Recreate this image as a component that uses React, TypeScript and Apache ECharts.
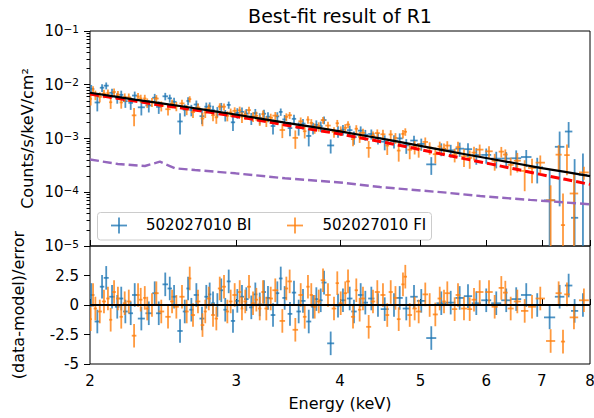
import React, { useEffect, useRef } from 'react';
import * as echarts from 'echarts';

// ---------- axis ticks ----------
const X_TICKS = [2, 3, 4, 5, 6, 7, 8];
const Y_MAJOR_TICKS = [1e-5, 1e-4, 1e-3, 1e-2, 1e-1];
const RESID_TICKS = [-5, -2.5, 0, 2.5];
const Y_MINOR_TICKS: number[] = [];
for (let d = -5; d < -1; d++) for (let k = 2; k <= 9; k++) Y_MINOR_TICKS.push(k * Math.pow(10, d));

// ---------- model curves (keV, counts/s/keV/cm^2) ----------
const MODEL_E = [2.0, 2.128, 2.265, 2.428, 2.602, 2.791, 2.994, 3.207, 3.434, 3.706, 4.0, 4.287, 4.595, 4.926, 5.28, 5.659, 6.066, 6.502, 6.969, 7.467, 8.0];
const MODEL_TOTAL = [7.1e-3, 6.13e-3, 5.3e-3, 4.55e-3, 3.9e-3, 3.3e-3, 2.8e-3, 2.35e-3, 1.97e-3, 1.64e-3, 1.36e-3, 1.125e-3, 9.3e-4, 7.59e-4, 6.2e-4, 5.1e-4, 4.2e-4, 3.46e-4, 2.85e-4, 2.39e-4, 2.0e-4];
const MODEL_SRC = [6.69e-3, 5.78e-3, 4.98e-3, 4.18e-3, 3.63e-3, 3.06e-3, 2.58e-3, 2.15e-3, 1.79e-3, 1.47e-3, 1.21e-3, 9.9e-4, 8.1e-4, 6.51e-4, 5.2e-4, 4.18e-4, 3.37e-4, 2.7e-4, 2.15e-4, 1.74e-4, 1.4e-4];
const BKG_E = [2.0, 2.161, 2.329, 2.428, 2.531, 2.675, 2.994, 3.434, 4.0, 4.47, 5.381, 5.9, 6.778, 8.0];
const BKG_V = [4.07e-4, 3.35e-4, 3.08e-4, 3.7e-4, 2.79e-4, 2.59e-4, 2.25e-4, 1.82e-4, 1.52e-4, 1.25e-4, 9.8e-5, 8.5e-5, 7.2e-5, 5.97e-5];

// ---------- BI data: bin energy (keV) and residual (data-model)/error ----------
const BI_ENERGY = [2.007, 2.041, 2.068, 2.092, 2.126, 2.157, 2.181, 2.206, 2.239, 2.264, 2.306, 2.354, 2.393, 2.42, 2.464, 2.495, 2.525, 2.567, 2.601, 2.625, 2.649, 2.686, 2.728, 2.761, 2.787, 2.813, 2.847, 2.878, 2.91, 2.938, 2.973, 3.009, 3.048, 3.085, 3.128, 3.163, 3.202, 3.24, 3.276, 3.322, 3.362, 3.394, 3.431, 3.482, 3.521, 3.567, 3.61, 3.668, 3.712, 3.746, 3.792, 3.827, 3.898, 3.978, 4.033, 4.109, 4.158, 4.236, 4.291, 4.363, 4.444, 4.528, 4.646, 4.72, 4.807, 4.911, 5.011, 5.152, 5.297, 5.437, 5.574, 5.704, 5.837, 6.0, 6.169, 6.342, 6.52, 6.704, 6.911, 7.153, 7.354, 7.54, 7.666, 7.845];
const BI_RESID = [0.85, -1.4, 1.55, 2.3, 0.7, -0.15, 0.55, -0.55, -0.7, 0.85, -1.15, -0.7, 1.0, -0.7, 1.75, 1.4, 0.7, -2.2, -0.55, 1.4, -0.4, 0.85, -1.15, 0.7, 0.9, 0.15, 0, 1.25, -0.4, 2.0, -1.35, 0.35, 0.7, 0.5, -0.2, 0.9, 0.05, 1.1, 0.6, -0.85, 1.0, 2.25, 0.6, -0.75, 1.05, -0.55, 0.35, -1.4, -0.15, 0.5, 0.4, 1.9, -3.25, -0.05, 0.4, 0.55, -0.55, 0.85, 0.2, 0.55, 0, -0.35, 0, 0.6, -0.3, 0.7, 0.35, -2.8, 0.15, 0.2, 0.6, 0.75, 0.15, 0.4, 0.15, 0.4, 0.5, 0.85, 0, -1.05, 0.7, 1.65, -0.5, 0];
// error / model, by energy band (band applies below each edge), plus wide-bin exceptions
const BI_ERR_EDGES = [3.0, 4.5, 5.5, 6.5, 7.0, 7.3, 7.45, 7.6, 7.75, 8.1];
const BI_ERR_SCALE = [0.22, 0.24, 0.28, 0.36, 0.5, 0.7, 2.6, 2.9, 1.7, 1.5];
const BI_ERR_EXC_E = [3.898, 5.152];
const BI_ERR_EXC_S = [0.15, 0.18];

// ---------- FI data ----------
const FI_ENERGY = [2.004, 2.017, 2.03, 2.055, 2.079, 2.102, 2.118, 2.138, 2.161, 2.181, 2.202, 2.227, 2.26, 2.285, 2.302, 2.328, 2.344, 2.375, 2.404, 2.437, 2.483, 2.511, 2.541, 2.581, 2.615, 2.637, 2.661, 2.698, 2.732, 2.753, 2.78, 2.813, 2.839, 2.866, 2.9, 2.927, 2.954, 2.987, 3.029, 3.048, 3.076, 3.108, 3.143, 3.172, 3.202, 3.231, 3.261, 3.301, 3.343, 3.409, 3.447, 3.479, 3.534, 3.587, 3.627, 3.66, 3.694, 3.729, 3.771, 3.816, 3.869, 3.934, 3.97, 4.008, 4.059, 4.09, 4.147, 4.185, 4.224, 4.263, 4.331, 4.383, 4.436, 4.506, 4.56, 4.604, 4.665, 4.707, 4.763, 4.794, 4.853, 4.92, 4.975, 5.067, 5.129, 5.21, 5.274, 5.337, 5.386, 5.497, 5.548, 5.641, 5.731, 5.8, 5.892, 6.046, 6.142, 6.256, 6.326, 6.421, 6.54, 6.675, 6.812, 6.97, 7.173, 7.334, 7.423, 7.505, 7.652, 7.866];
const FI_RESID = [-1.2, 0.85, -0.3, -0.55, 0.3, 0.55, -1.25, 1.1, 0.55, -1.0, 0.15, 0.3, -2.6, 0.85, 0.45, 0.6, -0.3, 0, 1.0, -0.55, -1.0, 0.3, -0.15, 0.7, -0.55, 2.25, -0.85, 0.3, -1.7, -0.55, 0.55, -0.85, -1.15, 1.4, 1.55, -0.55, 0.3, 0.85, 1.1, -0.3, 0.3, 1.55, 0.15, 0.45, -0.3, 1.1, -0.3, 0.55, 1.25, -1.35, 1.4, 2.0, -2.1, 0.85, -1.0, 1.55, 0.85, -0.15, 0.3, 2.1, 0.85, -0.3, 1.85, 0.15, 1.0, 2.0, -1.0, 1.25, -0.4, 0.55, -1.85, 0.3, 1.1, 0.85, -0.85, 1.1, 0.6, -1.2, 1.75, 2.4, -0.85, -0.3, -0.55, 0.9, 0, -0.8, 0.55, 0.3, 1.0, -0.35, 0.85, -0.3, -0.35, 0.45, 1.1, 1.1, -0.15, 1.45, 1.05, -0.3, 0.3, -0.5, -0.15, 0.55, -3.05, 1.0, -3.1, 0.9, -1.05, 0.4];
const FI_ERR_EDGES = [3.0, 4.5, 5.5, 6.5, 7.0, 7.3, 7.4, 7.45, 7.6, 7.75, 8.1];
const FI_ERR_SCALE = [0.19, 0.21, 0.26, 0.33, 0.45, 0.24, 1.0, 0.29, 1.2, 0.55, 0.3];
const FI_ERR_EXC_E: number[] = [];
const FI_ERR_EXC_S: number[] = [];

const RESID_ZERO = [[2, 0], [8, 0]];

const BLUE = '#1f77b4';
const ORANGE = '#ff7f0e';
const FONT = 'DejaVu Sans';
const Y_MIN = 1e-5;
const Y_MAX = 1e-1;

// ---------- helpers ----------
function modelAt(e: number): number {
  const xs = MODEL_E, ys = MODEL_TOTAL;
  let i = 0;
  while (i < xs.length - 2 && e > xs[i + 1]) i++;
  const t = (Math.log(e) - Math.log(xs[i])) / (Math.log(xs[i + 1]) - Math.log(xs[i]));
  return Math.exp(Math.log(ys[i]) + t * (Math.log(ys[i + 1]) - Math.log(ys[i])));
}
function errScale(edges: number[], vals: number[], excE: number[], excS: number[], e: number): number {
  const k = excE.indexOf(e);
  if (k >= 0) return excS[k];
  for (let i = 0; i < edges.length; i++) if (e < edges[i]) return vals[i];
  return vals[vals.length - 1];
}
function halfWidth(E: number[], i: number): number {
  const n = E.length;
  if (i === 0) return (E[1] - E[0]) / 2;
  if (i === n - 1) return (E[n - 1] - E[n - 2]) / 2;
  return (E[i + 1] - E[i - 1]) / 4;
}
function spectrumItems(E: number[], R: number[], edges: number[], scale: number[], excE: number[], excS: number[]) {
  return E.map((e, i) => {
    const m = modelAt(e);
    const err = m * errScale(edges, scale, excE, excS, e);
    const f = m + R[i] * err;
    const hw = halfWidth(E, i);
    const has = f > 0 ? 1 : 0;
    return [e, e - hw, e + hw, has ? f : Y_MIN / 10, Math.max(f - err, Y_MIN / 10), Math.max(f + err, Y_MIN / 10), has];
  });
}
function residItems(E: number[], R: number[]) {
  return E.map((e, i) => {
    const hw = halfWidth(E, i);
    return [e, e - hw, e + hw, R[i], R[i] - 1, R[i] + 1, 1];
  });
}
function makeRender(color: string) {
  return (_params: any, api: any) => {
    const x = api.value(0), xl = api.value(1), xh = api.value(2);
    const y = api.value(3), yl = api.value(4), yh = api.value(5), has = api.value(6);
    const a = api.coord([x, yl]);
    const b = api.coord([x, yh]);
    const children: any[] = [
      { type: 'line', shape: { x1: a[0], y1: a[1], x2: b[0], y2: b[1] }, style: { stroke: color, lineWidth: 1.8, opacity: 0.8 } },
    ];
    if (has) {
      const l = api.coord([xl, y]);
      const r = api.coord([xh, y]);
      children.push({ type: 'line', shape: { x1: l[0], y1: l[1], x2: r[0], y2: r[1] }, style: { stroke: color, lineWidth: 1.8, opacity: 0.8 } });
    }
    return { type: 'group', children };
  };
}

export default function App() {
  const ref = useRef<HTMLDivElement>(null);
  useEffect(() => {
    document.body.style.margin = '0';
    if (!ref.current) return;
    const chart = echarts.init(ref.current, undefined, { renderer: 'svg' });
    const axisTickStyle = { color: '#000', width: 1 };
    const option: any = {
      animation: false,
      backgroundColor: '#ffffff',
      textStyle: { fontFamily: FONT },
      grid: [
        { left: 90, top: 31, width: 500, height: 215, show: true, borderColor: '#000', borderWidth: 1, backgroundColor: 'transparent', outerBoundsMode: 'none' },
        { left: 90, top: 246, width: 500, height: 118, show: true, borderColor: '#000', borderWidth: 1, backgroundColor: 'transparent', outerBoundsMode: 'none' },
      ],
      xAxis: [
        {
          type: 'log', logBase: 10, gridIndex: 0, min: 2, max: 8,
          axisLine: { show: false },
          axisTick: { show: true, inside: true, length: 6, customValues: X_TICKS, lineStyle: axisTickStyle },
          axisLabel: { show: false },
          splitLine: { show: false },
        },
        {
          type: 'log', logBase: 10, gridIndex: 1, min: 2, max: 8,
          axisLine: { show: false },
          axisTick: { show: true, inside: true, length: 6, customValues: X_TICKS, lineStyle: axisTickStyle },
          axisLabel: { show: true, customValues: X_TICKS, formatter: (v: number) => String(Math.round(v)), fontSize: 15, fontFamily: FONT, color: '#000', margin: 9 },
          splitLine: { show: false },
        },
      ],
      yAxis: [
        {
          type: 'log', logBase: 10, gridIndex: 0, min: Y_MIN, max: Y_MAX, position: 'left',
          axisLine: { show: false },
          axisTick: { show: true, length: 6, customValues: Y_MAJOR_TICKS, lineStyle: axisTickStyle },
          axisLabel: {
            show: true, customValues: Y_MAJOR_TICKS, margin: 11, color: '#000',
            formatter: (v: number) => `{b|10}{s|\u2212${-Math.round(Math.log10(v))}}`,
            rich: {
              b: { fontSize: 15, fontFamily: FONT, color: '#000', lineHeight: 16, verticalAlign: 'middle' },
              s: { fontSize: 10.5, fontFamily: FONT, color: '#000', lineHeight: 16, verticalAlign: 'top' },
            },
          },
          splitLine: { show: false },
        },
        {
          type: 'log', logBase: 10, gridIndex: 0, min: Y_MIN, max: Y_MAX, position: 'left', offset: 0,
          axisLine: { show: false },
          axisTick: { show: true, length: 3.5, customValues: Y_MINOR_TICKS, lineStyle: axisTickStyle },
          axisLabel: { show: false },
          splitLine: { show: false },
        },
        {
          type: 'value', gridIndex: 1, min: -5, max: 5, position: 'left',
          axisLine: { show: false },
          axisTick: { show: true, length: 6, customValues: RESID_TICKS, lineStyle: axisTickStyle },
          axisLabel: { show: true, customValues: RESID_TICKS, fontSize: 15, fontFamily: FONT, color: '#000', margin: 11, formatter: (v: number) => String(v) },
          splitLine: { show: false },
        },
      ],
      series: [
        {
          type: 'custom', name: '502027010 BI', xAxisIndex: 0, yAxisIndex: 0, clip: true,
          renderItem: makeRender(BLUE), encode: { x: 0, y: 3 },
          data: spectrumItems(BI_ENERGY, BI_RESID, BI_ERR_EDGES, BI_ERR_SCALE, BI_ERR_EXC_E, BI_ERR_EXC_S), z: 2,
        },
        {
          type: 'custom', name: '502027010 FI', xAxisIndex: 0, yAxisIndex: 0, clip: true,
          renderItem: makeRender(ORANGE), encode: { x: 0, y: 3 },
          data: spectrumItems(FI_ENERGY, FI_RESID, FI_ERR_EDGES, FI_ERR_SCALE, FI_ERR_EXC_E, FI_ERR_EXC_S), z: 3,
        },
        {
          type: 'line', xAxisIndex: 0, yAxisIndex: 0, symbol: 'none', silent: true, z: 4,
          data: BKG_E.map((e, i) => [e, BKG_V[i]]),
          lineStyle: { color: '#9467bd', width: 2.4, type: [9, 4] },
        },
        {
          type: 'line', xAxisIndex: 0, yAxisIndex: 0, symbol: 'none', silent: true, z: 5,
          data: MODEL_E.map((e, i) => [e, MODEL_SRC[i]]),
          lineStyle: { color: '#ff0000', width: 3, type: [9, 4] },
        },
        {
          type: 'line', xAxisIndex: 0, yAxisIndex: 0, symbol: 'none', silent: true, z: 6,
          data: MODEL_E.map((e, i) => [e, MODEL_TOTAL[i]]),
          lineStyle: { color: '#000000', width: 2.2, type: 'solid' },
        },
        {
          type: 'custom', xAxisIndex: 1, yAxisIndex: 2, clip: true,
          renderItem: makeRender(BLUE), encode: { x: 0, y: 3 },
          data: residItems(BI_ENERGY, BI_RESID), z: 2,
        },
        {
          type: 'custom', xAxisIndex: 1, yAxisIndex: 2, clip: true,
          renderItem: makeRender(ORANGE), encode: { x: 0, y: 3 },
          data: residItems(FI_ENERGY, FI_RESID), z: 3,
        },
        {
          type: 'line', xAxisIndex: 1, yAxisIndex: 2, symbol: 'none', silent: true, z: 6,
          data: RESID_ZERO,
          lineStyle: { color: '#000000', width: 2, type: 'solid' },
        },
      ],
      graphic: [
        { type: 'text', x: 340, y: 16, z: 100, style: { text: 'Best-fit result of R1', fontSize: 19, fontFamily: FONT, fill: '#000', align: 'center', verticalAlign: 'middle' } },
        { type: 'text', x: 27, y: 138.5, rotation: Math.PI / 2, z: 100, style: { text: 'Counts/s/keV/cm\u00b2', fontSize: 16, fontFamily: FONT, fill: '#000', align: 'center', verticalAlign: 'middle' } },
        { type: 'text', x: 18, y: 305, rotation: Math.PI / 2, z: 100, style: { text: '(data-model)/error', fontSize: 16, fontFamily: FONT, fill: '#000', align: 'center', verticalAlign: 'middle' } },
        { type: 'text', x: 340, y: 403, z: 100, style: { text: 'Energy (keV)', fontSize: 16, fontFamily: FONT, fill: '#000', align: 'center', verticalAlign: 'middle' } },
        {
          type: 'group', z: 100, children: [
            { type: 'rect', shape: { x: 97.5, y: 212.5, width: 334, height: 27.5, r: 3 }, style: { fill: 'rgba(255,255,255,0.8)', stroke: '#cccccc', lineWidth: 1 } },
            { type: 'line', shape: { x1: 111, y1: 225.5, x2: 127, y2: 225.5 }, style: { stroke: BLUE, lineWidth: 1.8, opacity: 0.8 } },
            { type: 'line', shape: { x1: 119, y1: 217.5, x2: 119, y2: 233.5 }, style: { stroke: BLUE, lineWidth: 1.8, opacity: 0.8 } },
            { type: 'text', x: 146, y: 225, style: { text: '502027010 BI', fontSize: 15, fontFamily: FONT, fill: '#000', align: 'left', verticalAlign: 'middle' } },
            { type: 'line', shape: { x1: 287, y1: 225.5, x2: 303, y2: 225.5 }, style: { stroke: ORANGE, lineWidth: 1.8, opacity: 0.8 } },
            { type: 'line', shape: { x1: 295, y1: 217.5, x2: 295, y2: 233.5 }, style: { stroke: ORANGE, lineWidth: 1.8, opacity: 0.8 } },
            { type: 'text', x: 322.5, y: 225, style: { text: '502027010 FI', fontSize: 15, fontFamily: FONT, fill: '#000', align: 'left', verticalAlign: 'middle' } },
          ],
        },
      ],
    };
    chart.setOption(option);
    return () => chart.dispose();
  }, []);
  return <div ref={ref} style={{ width: 594, height: 418 }} />;
}
